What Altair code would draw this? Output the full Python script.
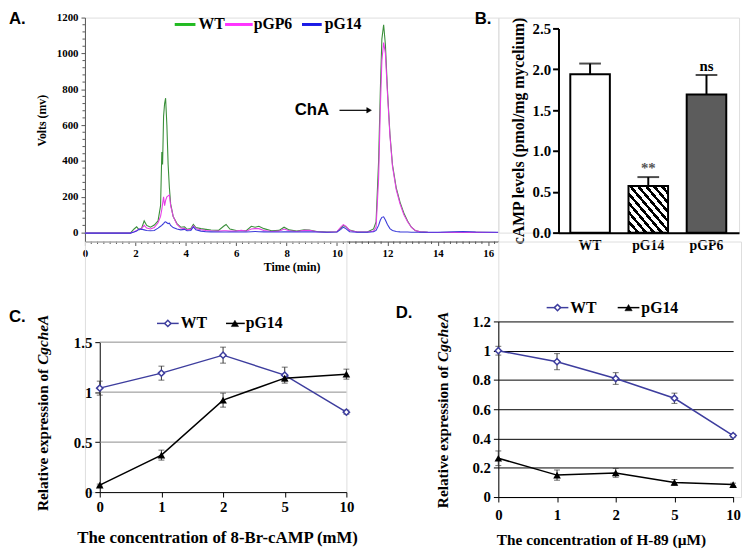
import altair as alt
import pandas as pd

SERIF = "Liberation Serif"
SANS = "Liberation Sans"

# ---------------- Panel A: HPLC chromatogram ----------------
time_min = [0.0, 1.0, 1.8, 1.95, 2.05, 2.15, 2.25, 2.35, 2.45, 2.6,
            2.75, 2.9, 3.0, 3.05, 3.08, 3.12, 3.16, 3.2, 3.25, 3.3,
            3.35, 3.4, 3.5, 3.65, 3.8, 3.95, 4.05, 4.2, 4.3, 4.4,
            4.6, 4.8, 5.0, 5.3, 5.5, 5.6, 5.75, 6.0, 6.2, 6.4,
            6.6, 6.75, 6.9, 7.1, 7.4, 7.7, 7.9, 8.1, 8.4, 8.7,
            8.9, 9.2, 9.6, 10.0, 10.15, 10.25, 10.35, 10.5, 10.8, 11.2,
            11.45, 11.55, 11.65, 11.72, 11.78, 11.85, 11.92, 12.0, 12.1, 12.2,
            12.35, 12.5, 12.65, 12.8, 12.95, 13.1, 13.3, 13.6, 14.0, 15.0,
            15.5, 16.4]
wt_mv = [-3, -3, -3, 20, 32, 15, 25, 65, 40, 30,
         42, 65, 150, 450, 380, 650, 720, 750, 600, 380,
         250, 160, 90, 50, 30, 32, 18, 22, 45, 28,
         22, 18, 14, 12, 35, 45, 20, 12, 10, 10,
         35, 30, 35, 22, 10, 12, 30, 15, 8, 16,
         14, 6, 3, 5, 25, 40, 32, 14, 3, 3,
         20, 60, 400, 800, 1080, 1160, 1050, 800, 550, 380,
         250, 170, 110, 65, 30, 12, 4, 1, 0, 2,
         1, 0]
pgp6_mv = [-3, -3, -3, 5, 12, 18, 22, 40, 25, 20,
           28, 55, 90, 130, 160, 200, 150, 180, 200, 205,
           210, 150, 90, 45, 25, 22, 15, 18, 38, 22,
           16, 12, 10, 8, 10, 10, 8, 8, 12, 8,
           20, 22, 22, 12, 6, 8, 20, 10, 6, 12,
           12, 5, 2, 5, 30, 44, 36, 12, 3, 3,
           8, 30, 300, 700, 960, 1060, 1000, 780, 540, 370,
           240, 160, 100, 60, 30, 12, 4, 1, 0, 2,
           1, 0]
pg14_mv = [-3, -3, -3, 3, 8, 20, 18, 15, 12, 10,
           12, 25, 35, 40, 45, 50, 58, 60, 55, 50,
           52, 40, 28, 20, 15, 18, 10, 12, 32, 15,
           8, 5, 4, 3, 3, 3, 3, 3, 3, 3,
           5, 6, 5, 4, 3, 3, 5, 4, 3, 4,
           4, 3, 2, 3, 18, 30, 22, 5, 2, 2,
           5, 12, 40, 70, 85, 88, 70, 45, 22, 12,
           6, 4, 3, 3, 2, 2, 2, 2, 2, 6,
           3, 2]
a_series = ["WT", "pGP6", "pG14"]
a_trace_colors = ["#3a8f3a", "#e63ee6", "#3b3bd9"]
a_legend_colors = ["#22bb22", "#ff33ff", "#1a1ae6"]
a_x_ticks = [0, 2, 4, 6, 8, 10, 12, 14, 16]
a_y_ticks = [0, 200, 400, 600, 800, 1000, 1200]
# minor axis ticks (axis decoration)
a_x_minor = [i * 0.25 for i in range(66) if i % 8 != 0]
a_y_minor = [k * 40 for k in range(1, 30) if (k * 40) % 200 != 0]

# ---------------- Panel B: cAMP levels ----------------
b_strains = ["WT", "pG14", "pGP6"]
b_mean = [1.94, 0.57, 1.69]
b_err = [0.13, 0.11, 0.24]
b_notes = ["", "**", "ns"]
b_y_ticks = [0.0, 0.5, 1.0, 1.5, 2.0, 2.5]

# ---------------- Panel C: 8-Br-cAMP ----------------
conc_labels = ["0", "1", "2", "5", "10"]
c_wt = [1.04, 1.19, 1.37, 1.17, 0.80]
c_wt_err = [0.07, 0.07, 0.08, 0.08, 0.02]
c_pg14 = [0.07, 0.37, 0.92, 1.14, 1.18]
c_pg14_err = [0.01, 0.05, 0.07, 0.03, 0.05]
c_y_ticks = [0, 0.5, 1, 1.5]

# ---------------- Panel D: H-89 ----------------
d_wt = [1.0, 0.925, 0.81, 0.675, 0.42]
d_wt_err = [0.03, 0.055, 0.04, 0.035, 0.01]
d_pg14 = [0.265, 0.15, 0.165, 0.10, 0.085]
d_pg14_err = [0.05, 0.035, 0.03, 0.02, 0.01]
d_y_ticks = [0, 0.2, 0.4, 0.6, 0.8, 1, 1.2]

line_series = ["WT", "pG14"]
line_colors = ["#3d3d9e", "black"]


# ---------------- helpers ----------------
def one():
    return alt.Data(values=[{"k": 0}])


def txt(text, x, y, size, font=SERIF, weight="bold", align="left",
        baseline="middle", color="black", angle=0, style="normal", dx=0):
    return alt.Chart(one()).mark_text(
        text=text, font=font, fontSize=size, fontWeight=weight, align=align,
        baseline=baseline, color=color, angle=angle, fontStyle=style, dx=dx
    ).encode(x=alt.value(x), y=alt.value(y))


def hseg(x1, x2, y, color, width):
    return alt.Chart(one()).mark_rule(color=color, strokeWidth=width).encode(
        x=alt.value(x1), x2=alt.value(x2), y=alt.value(y))


def sym(x, y, shape, size, fill, stroke, sw=1.3):
    return alt.Chart(one()).mark_point(
        shape=shape, size=size, filled=True, fill=fill, stroke=stroke,
        strokeWidth=sw, opacity=1).encode(x=alt.value(x), y=alt.value(y))


lab = dict(labelFont=SERIF, labelFontWeight="bold", labelColor="black")
ttl = dict(titleFont=SERIF, titleFontWeight="bold", titleColor="black")

# ================= Panel A =================
A_W, A_H = 419, 227
n = len(time_min)
dfA = pd.DataFrame({
    "t": time_min * 3,
    "mv": wt_mv + pgp6_mv + pg14_mv,
    "s": ["WT"] * n + ["pGP6"] * n + ["pG14"] * n,
})
a_xscale = alt.Scale(domain=[0, 16.4], nice=False, zero=False)
a_yscale = alt.Scale(domain=[-50, 1200], nice=False)
a_xaxis = alt.Axis(
    values=a_x_ticks, format="d", title="Time (min)", titleFontSize=12,
    titlePadding=3, labelFontSize=11, labelPadding=2, labelFlush=False,
    tickSize=4, tickColor="#555", domainColor="#555", grid=False, **lab, **ttl)
a_yaxis = alt.Axis(
    values=a_y_ticks, format="d", title="Volts (mv)", titleFontSize=12,
    titlePadding=8, titleY=104, labelFontSize=11, labelPadding=3,
    tickSize=4, tickColor="#555", domainColor="#555", grid=False, **lab, **ttl)
xA = alt.X("t:Q", scale=a_xscale, axis=a_xaxis)
yA = alt.Y("mv:Q", scale=a_yscale, axis=a_yaxis)

a_lines = alt.Chart(dfA).mark_line(strokeWidth=1.1).encode(
    x=xA, y=yA,
    color=alt.Color("s:N", scale=alt.Scale(domain=a_series, range=a_trace_colors), legend=None),
)
a_xm = alt.Chart(pd.DataFrame({"t": a_x_minor})).mark_rule(color="#555", strokeWidth=1).encode(
    x=xA, y=alt.value(A_H), y2=alt.value(A_H + 2.5))
a_ym = alt.Chart(pd.DataFrame({"mv": a_y_minor})).mark_rule(color="#555", strokeWidth=1).encode(
    y=yA, x=alt.value(0), x2=alt.value(-2.5))

a_layers = [a_lines, a_xm, a_ym]
# legend
leg_pos = [(91, 112, 115), (142, 170, 171), (220, 240, 243)]
for (x1, x2, xt), name, col in zip(leg_pos, a_series, a_legend_colors):
    a_layers.append(hseg(x1, x2, 7, col, 3))
    a_layers.append(txt(name, xt, 7, 16))
# ChA annotation
a_layers.append(txt("ChA", 230, 94, 17, font=SANS, align="center"))
a_layers.append(hseg(258, 286, 94, "black", 1.2))
a_layers.append(sym(288, 94, "triangle-right", 30, "black", "black", 0.5))
a_layers.append(txt("A.", -77, -6, 17, font=SANS, baseline="top"))
A = alt.layer(*a_layers).properties(width=A_W, height=A_H)

# ================= Panel B =================
B_W, B_H = 244, 218
dfB = pd.DataFrame({
    "strain": b_strains,
    "mean": b_mean,
    "top": [m + e for m, e in zip(b_mean, b_err)],
    "note": b_notes,
})
b_xscale = alt.Scale(range=[61, B_W], paddingInner=0.32, paddingOuter=0.211, align=0.48)
b_yscale = alt.Scale(domain=[0, 2.5], range=[B_H, 11], nice=False)
b_yaxis = alt.Axis(
    values=b_y_ticks, format=".1f", offset=-61,
    title="cAMP levels (pmol/mg mycelium)", titleFontSize=16, titlePadding=6,
    labelFontSize=15, labelPadding=2, tickSize=6, tickWidth=2, tickColor="black",
    domainColor="black", domainWidth=2, grid=False, **lab, **ttl)
xB = alt.X("strain:N", sort=b_strains, scale=b_xscale, axis=alt.Axis(
    title=None, labelAngle=0, labelFontSize=14, labelPadding=6, ticks=False,
    domainColor="black", domainWidth=2, grid=False, **lab))
yB = alt.Y("mean:Q", scale=b_yscale, axis=b_yaxis)
yB_top = alt.Y("top:Q", scale=b_yscale, axis=b_yaxis)

hatch_stops = []
k = 10
for i in range(k):
    hatch_stops += [
        alt.GradientStop(color="black", offset=i / k),
        alt.GradientStop(color="black", offset=(i + 0.42) / k),
        alt.GradientStop(color="white", offset=(i + 0.42) / k),
        alt.GradientStop(color="white", offset=(i + 1) / k),
    ]
hatch = alt.LinearGradient(gradient="linear", stops=hatch_stops, x1=0, y1=1, x2=1, y2=0)

b_bars = alt.Chart(dfB).transform_filter("datum.strain != 'pG14'").mark_bar(
    stroke="black", strokeWidth=2).encode(
    x=xB, y=yB,
    fill=alt.Fill("strain:N", scale=alt.Scale(domain=["WT", "pGP6"], range=["white", "#5c5c5c"]), legend=None))
b_hatch = alt.Chart(dfB).transform_filter("datum.strain == 'pG14'").mark_bar(
    stroke="black", strokeWidth=2, fill=hatch).encode(x=xB, y=yB)
b_err_rule = alt.Chart(dfB).mark_rule(color="black", strokeWidth=2).encode(
    x=xB, y=yB, y2="top:Q")
b_cap = alt.Chart(dfB).mark_tick(color="black", thickness=2, size=22).encode(x=xB, y=yB_top)
b_text = alt.Chart(dfB).transform_filter("datum.note != ''").mark_text(
    font=SERIF, fontWeight="bold", fontSize=15, baseline="bottom", dy=-1).encode(
    x=xB, y=yB_top, text="note:N",
    color=alt.Color("note:N", scale=alt.Scale(domain=["**", "ns"], range=["#555555", "black"]), legend=None))
B = alt.layer(b_bars, b_hatch, b_err_rule, b_cap, b_text,
              txt("B.", -24, -6, 17, font=SANS, baseline="top")).properties(width=B_W, height=B_H)


# ================= Panels C & D =================
def long_df(wt, wt_err, pg, pg_err):
    rows = []
    for name, vals, errs in (("WT", wt, wt_err), ("pG14", pg, pg_err)):
        for c, v, e in zip(conc_labels, vals, errs):
            rows.append({"conc": c, "s": name, "val": v, "lo": v - e, "hi": v + e})
    return pd.DataFrame(rows)


def line_panel(df, xenc, yscale, yaxis, cap_w=6):
    yv = alt.Y("val:Q", scale=yscale, axis=yaxis)
    ylo = alt.Y("lo:Q", scale=yscale, axis=yaxis)
    yhi = alt.Y("hi:Q", scale=yscale, axis=yaxis)
    lines = alt.Chart(df).mark_line(strokeWidth=1.5).encode(
        x=xenc, y=yv,
        color=alt.Color("s:N", scale=alt.Scale(domain=line_series, range=line_colors), legend=None))
    err = alt.Chart(df).mark_rule(color="#333", strokeWidth=1).encode(
        x=xenc, y=ylo, y2="hi:Q")
    cap_lo = alt.Chart(df).mark_tick(color="#333", thickness=1, size=cap_w).encode(x=xenc, y=ylo)
    cap_hi = alt.Chart(df).mark_tick(color="#333", thickness=1, size=cap_w).encode(x=xenc, y=yhi)
    pts_wt = alt.Chart(df).transform_filter("datum.s == 'WT'").mark_point(
        shape="diamond", size=40, filled=True, fill="white", stroke=line_colors[0],
        strokeWidth=1.5, opacity=1).encode(x=xenc, y=yv)
    pts_pg = alt.Chart(df).transform_filter("datum.s == 'pG14'").mark_point(
        shape="triangle-up", size=60, filled=True, color="black", opacity=1).encode(x=xenc, y=yv)
    return [err, cap_lo, cap_hi, lines, pts_wt, pts_pg]


def legend_layers(wx1, wx2, wsym, wtxt, px1, px2, psym, ptxt, y, size):
    return [
        hseg(wx1, wx2, y, line_colors[0], 1.5),
        sym(wsym, y, "diamond", 40, "white", line_colors[0], 1.5),
        txt("WT", wtxt, y, size),
        hseg(px1, px2, y, "black", 1.5),
        sym(psym, y, "triangle-up", 55, "black", "black", 0.5),
        txt("pG14", ptxt, y, size),
    ]


def ytitle(x, y, size):
    return [
        txt("Relative expression of", x, y, size, align="right", angle=270),
        txt("CgcheA", x, y, size, align="left", angle=270, style="italic", dx=4),
    ]


# ---- C ----
C_W, C_H = 265, 254
dfC = long_df(c_wt, c_wt_err, c_pg14, c_pg14_err)
c_yscale = alt.Scale(domain=[0, 1.5], range=[C_H, 102], nice=False)
xC = alt.X("conc:N", sort=conc_labels,
           scale=alt.Scale(type="point", range=[15, C_W], padding=0),
           axis=alt.Axis(labelAngle=0, title="The concentration of 8-Br-cAMP (mM)",
                         titleFontSize=17, titleX=134, titlePadding=15,
                         labelFontSize=15, labelPadding=3, tickSize=5, tickColor="black",
                         domainColor="black", grid=False, **lab, **ttl))
c_yaxis = alt.Axis(
    values=c_y_ticks, format="~g", offset=-15, title=None, labelFontSize=15,
    labelPadding=3, tickSize=5, tickColor="black", domainColor="black", grid=False, **lab)
c_grid = alt.Chart(pd.DataFrame({"val": c_y_ticks[1:]})).mark_rule(color="#8c8c8c", strokeWidth=1).encode(
    y=alt.Y("val:Q", scale=c_yscale, axis=c_yaxis), x=alt.value(15), x2=alt.value(C_W))
C = alt.layer(
    c_grid, *line_panel(dfC, xC, c_yscale, c_yaxis),
    *legend_layers(73, 95, 84, 97, 143, 162, 152, 163, 83, 16),
    *ytitle(-42, 129, 15.5),
    txt("C.", -77, 69, 17, font=SANS, baseline="top"),
).properties(width=C_W, height=C_H)

# ---- D ----
D_W, D_H = 246, 259
dfD = long_df(d_wt, d_wt_err, d_pg14, d_pg14_err)
d_yscale = alt.Scale(domain=[0, 1.2], range=[D_H, 81], nice=False)
xD = alt.X("conc:N", sort=conc_labels,
           scale=alt.Scale(type="point", range=[0, 238], padding=0),
           axis=alt.Axis(labelAngle=0, title="The concentration of H-89 (\u00b5M)",
                         titleFontSize=15.5, titleX=104, titlePadding=10,
                         labelFontSize=15, labelPadding=6, tickSize=5, tickColor="black",
                         domainColor="black", grid=False, **lab, **ttl))
d_yaxis = alt.Axis(
    values=d_y_ticks, format="~g", title=None, labelFontSize=15, labelPadding=3,
    tickSize=5, tickColor="black", domainColor="black",
    grid=True, gridColor="black", gridWidth=1, gridOpacity=1, **lab)
D = alt.layer(
    *line_panel(dfD, xD, d_yscale, d_yaxis),
    *legend_layers(49, 71, 60, 73, 121, 143, 132, 145, 67, 16),
    *ytitle(-56, 126, 15.5),
    txt("D.", -104, 65, 17, font=SANS, baseline="top"),
).properties(width=D_W, height=D_H)

chart = alt.concat(A, B, C, D, columns=2, spacing=0, bounds="flush", align="each").resolve_scale(
    color="independent", fill="independent"
).properties(
    padding={"top": -2, "left": 0, "right": 0, "bottom": 0}
).configure_view(stroke=None).configure(background="white")

chart.save("out.html", embed_options={"renderer": "svg", "actions": False})
